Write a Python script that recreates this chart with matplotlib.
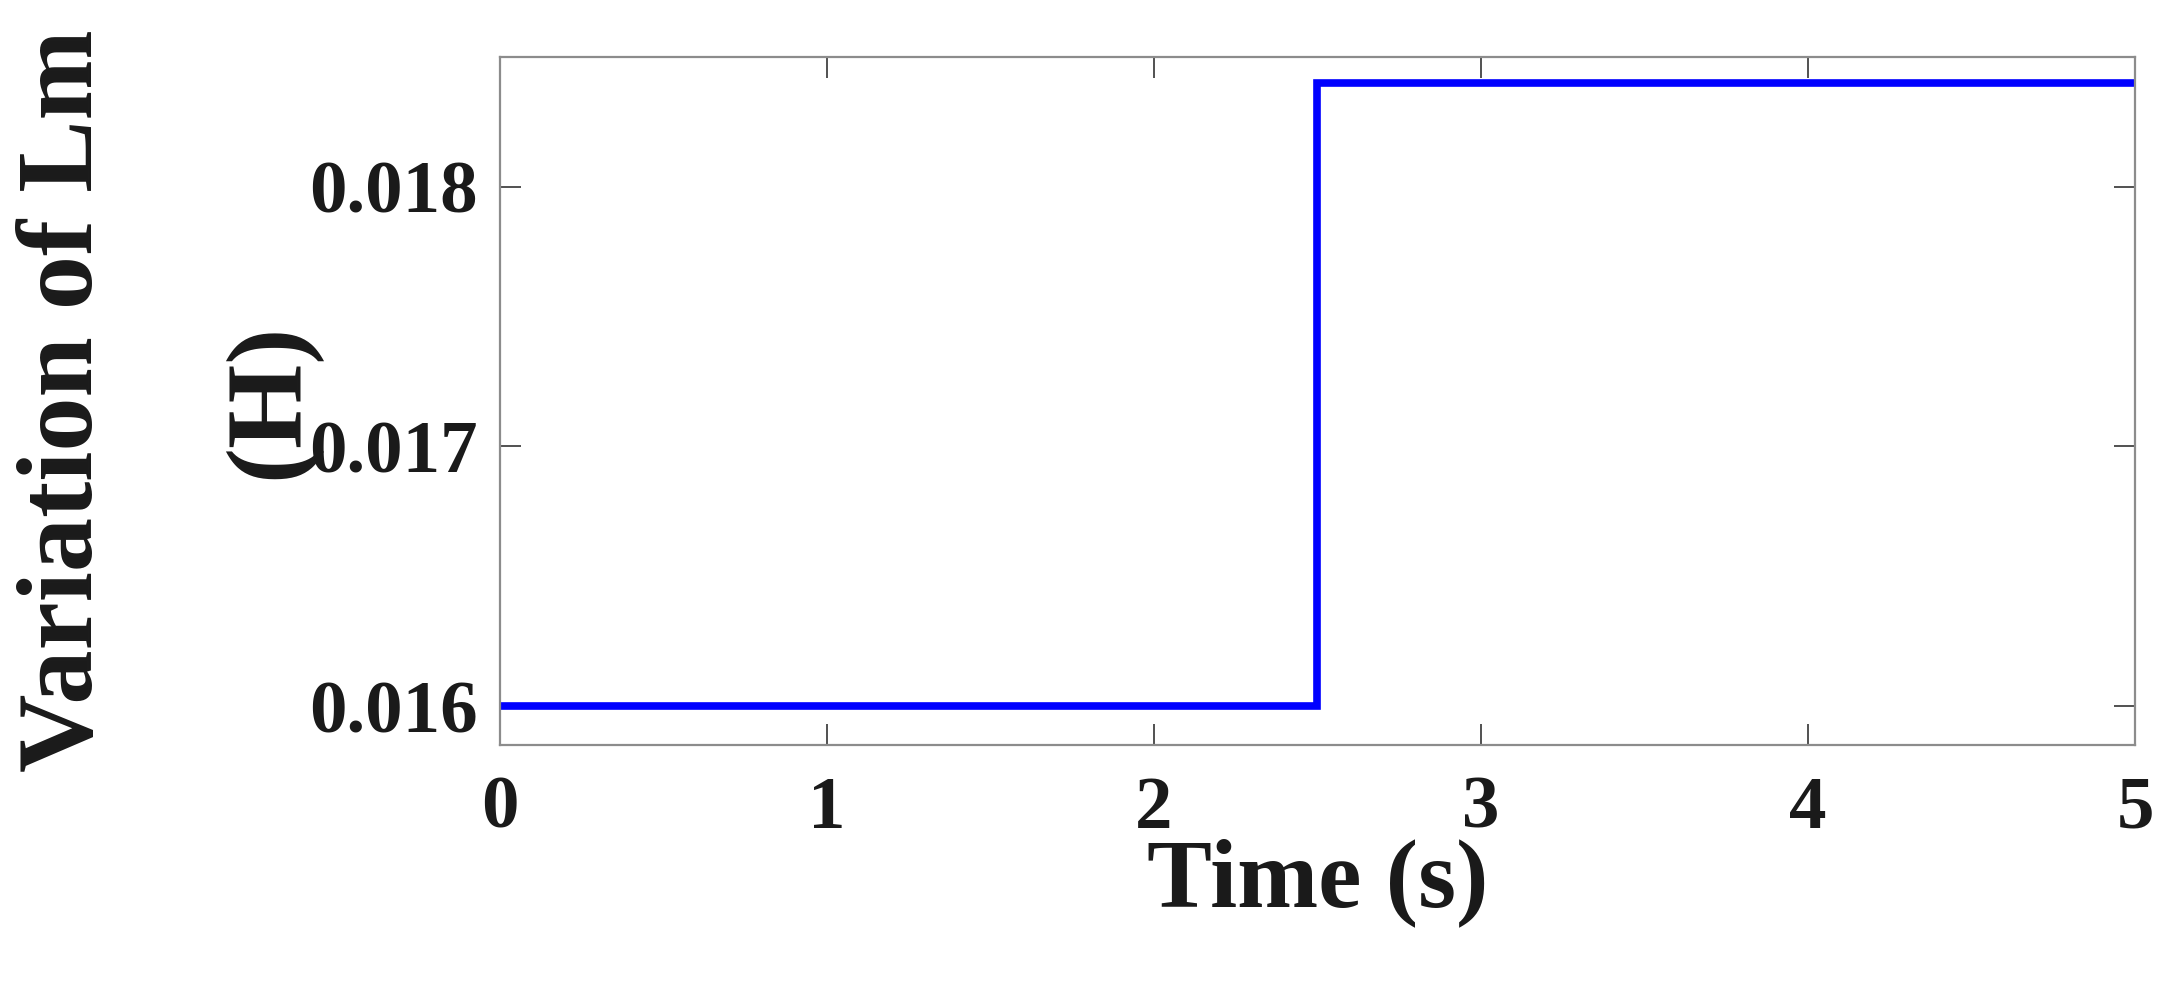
import matplotlib.pyplot as plt

# step in magnetizing inductance Lm at t = 2.5 s
time_s = [0, 2.5, 2.5, 5]
lm_h = [0.016, 0.016, 0.0184, 0.0184]

x_ticks = [0, 1, 2, 3, 4, 5]
y_ticks = [0.016, 0.017, 0.018]
y_tick_labels = ["0.016", "0.017", "0.018"]

plt.rcParams['font.family'] = ['Liberation Serif', 'DejaVu Serif']
plt.rcParams['font.weight'] = 'bold'

fig = plt.figure(figsize=(21.68, 9.92), dpi=100)
ax = fig.add_axes([0.2306, 0.249, 0.7542, 0.6935])

ax.plot(time_s, lm_h, color="#0000ff", linewidth=5.5, solid_joinstyle="miter")

ax.set_xlim(0, 5)
ax.set_ylim(0.01585, 0.0185)
ax.set_xticks(x_ticks)
ax.set_yticks(y_ticks)
ax.set_yticklabels(y_tick_labels)

for s in ax.spines.values():
    s.set_color("#8c8c8c")
    s.set_linewidth(1.6)

ax.tick_params(direction="in", length=15, width=1.2, color="#333333",
               top=True, right=True, labelsize=54, labelcolor="#1a1a1a")
ax.tick_params(axis="x", pad=22)
ax.tick_params(axis="y", pad=16)

ax.set_xlabel("Time (s)", fontsize=70, fontweight="bold", color="#1a1a1a")
ax.xaxis.set_label_coords(0.5, -0.135)

ax.set_ylabel("Variation of Lm\n(H)", fontsize=78, fontweight="bold",
              color="#1a1a1a", linespacing=2.42)
ax.yaxis.set_label_coords(-0.11, 0.5)

fig.savefig("out.png", dpi=100)
